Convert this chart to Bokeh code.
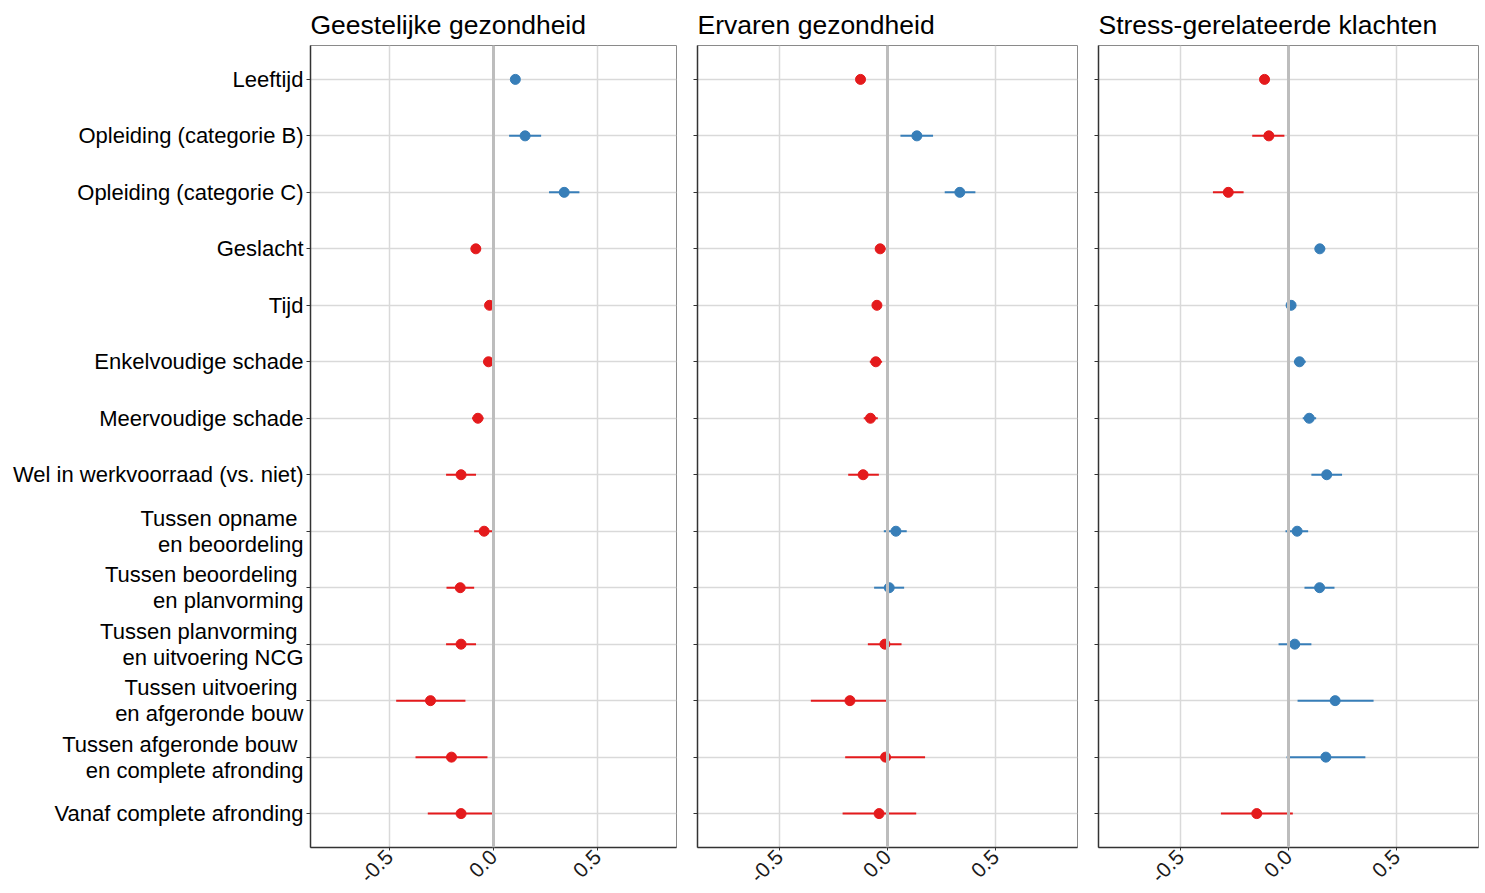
from bokeh.plotting import figure
from bokeh.layouts import row
from bokeh.models import Range1d, FixedTicker, ColumnDataSource, Span, CustomJSTickFormatter
from bokeh.embed import file_html
from bokeh.resources import INLINE
import math

categories = [
    "Leeftijd",
    "Opleiding (categorie B)",
    "Opleiding (categorie C)",
    "Geslacht",
    "Tijd",
    "Enkelvoudige schade",
    "Meervoudige schade",
    "Wel in werkvoorraad (vs. niet)",
    "Tussen opname \nen beoordeling",
    "Tussen beoordeling \nen planvorming",
    "Tussen planvorming \nen uitvoering NCG",
    "Tussen uitvoering \nen afgeronde bouw",
    "Tussen afgeronde bouw \nen complete afronding",
    "Vanaf complete afronding",
]

panel_titles = ["Geestelijke gezondheid", "Ervaren gezondheid", "Stress-gerelateerde klachten"]

est_geestelijk = [0.105, 0.152, 0.340, -0.085, -0.019, -0.024, -0.075, -0.156, -0.045, -0.160, -0.156, -0.303, -0.202, -0.156]
lo_geestelijk = [0.095, 0.075, 0.267, -0.106, -0.027, -0.048, -0.103, -0.228, -0.093, -0.226, -0.228, -0.468, -0.375, -0.316]
hi_geestelijk = [0.115, 0.229, 0.413, -0.061, -0.011, 0.000, -0.048, -0.084, 0.003, -0.093, -0.084, -0.135, -0.029, 0.003]

est_ervaren = [-0.125, 0.136, 0.335, -0.034, -0.049, -0.054, -0.079, -0.113, 0.039, 0.008, -0.012, -0.174, -0.009, -0.039]
lo_ervaren = [-0.145, 0.060, 0.265, -0.056, -0.058, -0.082, -0.110, -0.182, -0.017, -0.062, -0.091, -0.355, -0.196, -0.208]
hi_ervaren = [-0.103, 0.211, 0.407, -0.009, -0.040, -0.025, -0.045, -0.040, 0.089, 0.077, 0.065, 0.003, 0.174, 0.133]

est_stress = [-0.111, -0.091, -0.279, 0.145, 0.012, 0.051, 0.096, 0.177, 0.040, 0.144, 0.029, 0.216, 0.173, -0.147]
lo_stress = [-0.133, -0.168, -0.350, 0.122, 0.004, 0.025, 0.066, 0.106, -0.014, 0.074, -0.046, 0.042, -0.009, -0.313]
hi_stress = [-0.088, -0.019, -0.208, 0.170, 0.020, 0.080, 0.128, 0.248, 0.091, 0.213, 0.106, 0.394, 0.356, 0.020]

x_ticks = [-0.5, 0.0, 0.5]
x_tick_labels = ["-0.5", "0.0", "0.5"]

RED = "#E41A1C"
BLUE = "#377EB8"
FONT = "Liberation Sans"

n = len(categories)
ypos = [n - i for i in range(n)]


def make_panel(title, est, lo, hi, first, frame_w, left_b, right_b):
    width = left_b + frame_w + right_b
    p = figure(width=width, height=891, output_backend="svg", toolbar_location=None,
               x_range=Range1d(-0.88, 0.88), y_range=Range1d(0.4, n + 0.6),
               min_border_left=left_b, min_border_right=right_b,
               min_border_top=45, min_border_bottom=44, title=title)
    p.title.text_font = FONT
    p.title.text_font_size = "26.5px"
    p.title.text_font_style = "normal"
    p.title.text_color = "#000000"
    p.title.align = "left"
    p.title.standoff = 12
    p.title.offset = 0

    p.outline_line_color = "#8a8a8a"
    p.outline_line_width = 1
    p.background_fill_color = "white"
    p.border_fill_color = "white"

    # grids
    p.xgrid.ticker = FixedTicker(ticks=x_ticks)
    p.ygrid.ticker = FixedTicker(ticks=ypos)
    for g in (p.xgrid, p.ygrid):
        g.grid_line_color = "#d9d9d9"
        g.grid_line_width = 1.5

    # axes
    p.xaxis.ticker = FixedTicker(ticks=x_ticks)
    p.xaxis.major_label_overrides = {t: s for t, s in zip(x_ticks, x_tick_labels)}
    p.xaxis.major_label_orientation = math.pi / 4
    p.xaxis.major_label_text_font = FONT
    p.xaxis.major_label_text_font_size = "21px"
    p.xaxis.major_label_text_color = "#1a1a1a"
    p.xaxis.major_label_standoff = 3
    p.xaxis.major_tick_out = 3
    p.xaxis.major_tick_in = 0
    p.xaxis.minor_tick_out = 0
    p.xaxis.minor_tick_in = 0
    p.xaxis.axis_line_color = "#333333"
    p.xaxis.axis_line_width = 1.5
    p.xaxis.major_tick_line_color = "#333333"

    p.yaxis.ticker = FixedTicker(ticks=ypos)
    p.yaxis.major_tick_out = 4
    p.yaxis.major_tick_in = 0
    p.yaxis.minor_tick_out = 0
    p.yaxis.minor_tick_in = 0
    p.yaxis.axis_line_color = "#333333"
    p.yaxis.axis_line_width = 1.5
    p.yaxis.major_tick_line_color = "#333333"
    if first:
        p.yaxis.major_label_overrides = {y: c for y, c in zip(ypos, categories)}
        p.yaxis.major_label_text_font = FONT
        p.yaxis.major_label_text_font_size = "22px"
        p.yaxis.major_label_text_line_height = 1.05
        p.yaxis.major_label_text_color = "#000000"
        p.yaxis.major_label_standoff = 3
    else:
        p.yaxis.formatter = CustomJSTickFormatter(code="return ''")
        p.yaxis.major_label_standoff = 0
        p.yaxis.major_label_text_font_size = "1px"

    zero = Span(location=0, dimension="height", line_color="#bdbdbd", line_width=3)
    p.add_layout(zero)

    colors = [RED if e < 0 else BLUE for e in est]
    src = ColumnDataSource(dict(y=ypos, est=est, lo=lo, hi=hi, color=colors))
    p.segment(x0="lo", x1="hi", y0="y", y1="y", line_color="color", line_width=2, source=src)
    p.scatter(x="est", y="y", size=10, fill_color="color", line_color="color", source=src)
    return p


p1 = make_panel(panel_titles[0], est_geestelijk, lo_geestelijk, hi_geestelijk, True, 366, 310, 10)
p2 = make_panel(panel_titles[1], est_ervaren, lo_ervaren, hi_ervaren, False, 380, 11, 10)
p3 = make_panel(panel_titles[2], est_stress, lo_stress, hi_stress, False, 380, 11, 2)

layout = row(p1, p2, p3)
open("out.html", "w").write(file_html(layout, INLINE))
